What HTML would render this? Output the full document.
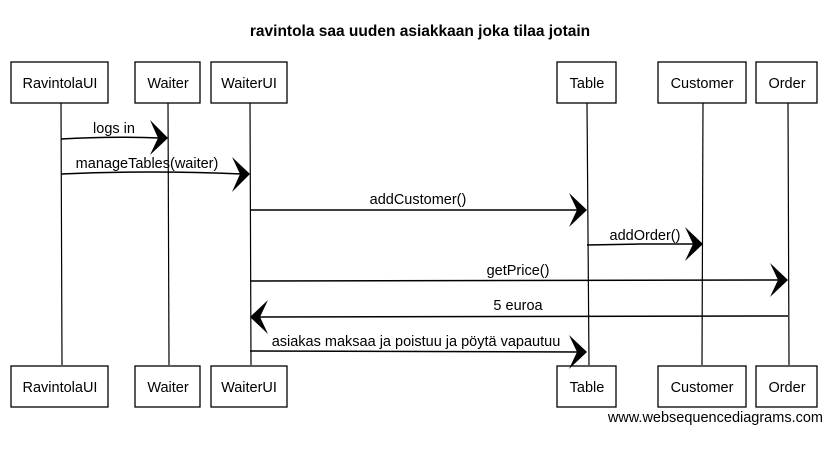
<!DOCTYPE html>
<html><head><meta charset="utf-8"><style>
body{margin:0;background:#fff;}
svg text{font-family:"Liberation Sans",Arial,sans-serif;font-size:14.5px;fill:#000;}
</style></head><body>
<svg width="840" height="446" xmlns="http://www.w3.org/2000/svg">
<rect width="840" height="446" fill="#fff"/>
<text x="420" y="36" text-anchor="middle" style="font-weight:bold;font-size:15.5px">ravintola saa uuden asiakkaan joka tilaa jotain</text>
<g stroke="#000" stroke-width="1.2" fill="none">
<line x1="61" y1="103" x2="62" y2="365"/>
<line x1="168" y1="103" x2="169" y2="365"/>
<line x1="250" y1="103" x2="251" y2="365"/>
<line x1="587" y1="103" x2="589" y2="365"/>
<line x1="703" y1="103" x2="702" y2="365"/>
<line x1="788" y1="103" x2="789" y2="365"/>
</g>
<g stroke="#000" stroke-width="1.3" fill="#fff">
<rect x="11" y="62" width="97" height="41"/><rect x="135" y="62" width="65" height="41"/><rect x="211" y="62" width="76" height="41"/>
<rect x="557" y="62" width="59" height="41"/><rect x="658" y="62" width="88" height="41"/><rect x="756" y="62" width="61" height="41"/>
<rect x="11" y="366" width="97" height="41"/><rect x="135" y="366" width="65" height="41"/><rect x="211" y="366" width="76" height="41"/>
<rect x="557" y="366" width="59" height="41"/><rect x="658" y="366" width="88" height="41"/><rect x="756" y="366" width="61" height="41"/>
</g>
<g text-anchor="middle">
<text x="60" y="88">RavintolaUI</text><text x="168" y="88">Waiter</text><text x="249" y="88">WaiterUI</text>
<text x="587" y="88">Table</text><text x="702" y="88">Customer</text><text x="787" y="88">Order</text>
<text x="60" y="392">RavintolaUI</text><text x="168" y="392">Waiter</text><text x="249" y="392">WaiterUI</text>
<text x="587" y="392">Table</text><text x="702" y="392">Customer</text><text x="787" y="392">Order</text>
</g>
<g stroke="#000" stroke-width="1.5" fill="none">
<path d="M61 139 Q110 136 160 138"/>
<path d="M61 174 Q150 170 242 174"/>
<path d="M250 210 L579 210"/>
<path d="M587 245 L640 244 L695 244"/>
<path d="M250 281 L780 280"/>
<path d="M788 316 L258 317"/>
<path d="M250 351 L579 352"/>
</g>
<g fill="#000">
<path d="M168 138 L150 120 L158 138 L150 155 Z"/>
<path d="M250 174 L232 157 L240 174 L232 192 Z"/>
<path d="M587 210 L569 193 L577 210 L569 227 Z"/>
<path d="M703 244 L685 227 L693 244 L685 261 Z"/>
<path d="M788 280 L770 263 L778 280 L770 297 Z"/>
<path d="M250 317 L268 300 L260 317 L268 334 Z"/>
<path d="M587 352 L569 335 L577 352 L569 369 Z"/>
</g>
<g text-anchor="middle">
<text x="114" y="133">logs in</text>
<text x="147" y="168">manageTables(waiter)</text>
<text x="418" y="204">addCustomer()</text>
<text x="645" y="240">addOrder()</text>
<text x="518" y="275">getPrice()</text>
<text x="518" y="310">5 euroa</text>
<text x="416" y="346">asiakas maksaa ja poistuu ja pöytä vapautuu</text>
</g>
<text x="823" y="422" text-anchor="end">www.websequencediagrams.com</text>
</svg>
</body></html>
